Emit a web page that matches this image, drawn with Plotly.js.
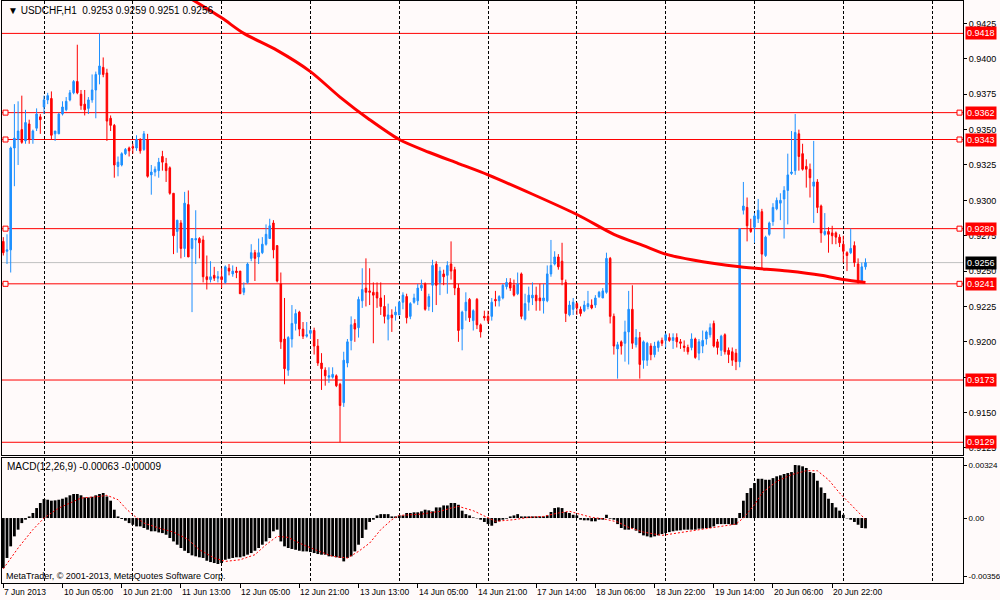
<!DOCTYPE html>
<html><head><meta charset="utf-8">
<script src="https://cdn.plot.ly/plotly-3.0.1.min.js"></script>
<style>html,body{margin:0;padding:0;background:#fffafa;}#chart{width:1000px;height:600px;}</style>
</head><body><div id="chart"></div>
<script>
const opens = [
0.9271,0.9264,0.9265,0.9337,0.9343,0.9350,0.9342,0.9354,0.9343,0.9351,
0.9359,0.9366,0.9371,0.9372,0.9347,0.9347,0.9361,0.9364,0.9371,0.9376,
0.9384,0.9375,0.9368,0.9365,0.9371,0.9378,0.9389,0.9394,0.9390,0.9358,
0.9353,0.9324,0.9325,0.9333,0.9337,0.9338,0.9337,0.9343,0.9336,0.9343,
0.9318,0.9320,0.9321,0.9331,0.9326,0.9323,0.9305,0.9278,0.9284,0.9266,
0.9297,0.9266,0.9272,0.9273,0.9272,0.9246,0.9244,0.9247,0.9245,0.9246,
0.9242,0.9252,0.9248,0.9250,0.9250,0.9235,0.9242,0.9259,0.9263,0.9260,
0.9263,0.9269,0.9273,0.9284,0.9268,0.9241,0.9202,0.9180,0.9202,0.9213,
0.9221,0.9209,0.9204,0.9206,0.9208,0.9197,0.9185,0.9180,0.9175,0.9175,
0.9176,0.9170,0.9157,0.9185,0.9201,0.9213,0.9210,0.9229,0.9238,0.9236,
0.9235,0.9235,0.9231,0.9225,0.9216,0.9219,0.9219,0.9219,0.9228,0.9232,
0.9218,0.9228,0.9229,0.9238,0.9241,0.9225,0.9240,0.9255,0.9242,0.9248,
0.9247,0.9255,0.9251,0.9238,0.9209,0.9222,0.9230,0.9215,0.9230,0.9212,
0.9218,0.9218,0.9218,0.9230,0.9229,0.9231,0.9239,0.9242,0.9240,0.9234,
0.9248,0.9216,0.9228,0.9231,0.9233,0.9231,0.9229,0.9229,0.9248,0.9255,
0.9260,0.9257,0.9242,0.9219,0.9223,0.9227,0.9223,0.9222,0.9225,0.9226,
0.9226,0.9232,0.9231,0.9235,0.9259,0.9218,0.9195,0.9200,0.9199,0.9207,
0.9223,0.9198,0.9203,0.9187,0.9187,0.9197,0.9191,0.9196,0.9201,0.9201,
0.9203,0.9201,0.9203,0.9200,0.9197,0.9196,0.9196,0.9202,0.9192,0.9197,
0.9202,0.9205,0.9213,0.9200,0.9194,0.9205,0.9194,0.9193,0.9192,0.9186,
0.9293,0.9295,0.9280,0.9281,0.9287,0.9292,0.9261,0.9276,0.9285,0.9294,
0.9298,0.9301,0.9307,0.9319,0.9321,0.9347,0.9333,0.9324,0.9322,0.9310,
0.9313,0.9296,0.9276,0.9278,0.9277,0.9277,0.9274,0.9269,0.9263,0.9263,
0.9268,0.9255,0.9243,0.9253];
const highs = [
0.9274,0.9276,0.9338,0.9368,0.9370,0.9374,0.9364,0.9357,0.9350,0.9365,
0.9361,0.9374,0.9376,0.9377,0.9349,0.9362,0.9370,0.9373,0.9378,0.9385,
0.9410,0.9378,0.9378,0.9373,0.9389,0.9391,0.9418,0.9401,0.9393,0.9360,
0.9354,0.9331,0.9334,0.9337,0.9338,0.9340,0.9346,0.9344,0.9349,0.9347,
0.9325,0.9324,0.9330,0.9335,0.9330,0.9324,0.9305,0.9286,0.9286,0.9306,
0.9307,0.9273,0.9293,0.9274,0.9275,0.9261,0.9257,0.9253,0.9250,0.9252,
0.9254,0.9255,0.9254,0.9253,0.9250,0.9242,0.9256,0.9269,0.9265,0.9273,
0.9274,0.9283,0.9287,0.9286,0.9268,0.9249,0.9231,0.9204,0.9226,0.9223,
0.9222,0.9214,0.9214,0.9209,0.9210,0.9202,0.9192,0.9182,0.9182,0.9182,
0.9177,0.9171,0.9193,0.9202,0.9218,0.9216,0.9232,0.9252,0.9259,0.9252,
0.9242,0.9242,0.9242,0.9233,0.9227,0.9223,0.9225,0.9229,0.9235,0.9234,
0.9228,0.9234,0.9241,0.9244,0.9242,0.9234,0.9258,0.9257,0.9253,0.9251,
0.9257,0.9271,0.9253,0.9241,0.9222,0.9235,0.9231,0.9223,0.9231,0.9213,
0.9222,0.9222,0.9231,0.9236,0.9233,0.9241,0.9245,0.9245,0.9244,0.9249,
0.9249,0.9234,0.9239,0.9242,0.9239,0.9241,0.9241,0.9254,0.9272,0.9264,
0.9262,0.9270,0.9244,0.9229,0.9231,0.9228,0.9225,0.9229,0.9236,0.9230,
0.9233,0.9236,0.9238,0.9263,0.9260,0.9220,0.9200,0.9201,0.9215,0.9236,
0.9240,0.9209,0.9207,0.9201,0.9200,0.9199,0.9200,0.9201,0.9203,0.9206,
0.9206,0.9206,0.9206,0.9202,0.9201,0.9198,0.9206,0.9203,0.9202,0.9208,
0.9208,0.9213,0.9215,0.9202,0.9205,0.9206,0.9196,0.9196,0.9195,0.9280,
0.9313,0.9302,0.9287,0.9291,0.9301,0.9294,0.9275,0.9285,0.9298,0.9302,
0.9305,0.9310,0.9333,0.9349,0.9361,0.9350,0.9340,0.9329,0.9326,0.9342,
0.9315,0.9297,0.9291,0.9281,0.9282,0.9278,0.9276,0.9275,0.9264,0.9280,
0.9271,0.9259,0.9256,0.9259];
const lows = [
0.9261,0.9255,0.9249,0.9310,0.9325,0.9340,0.9340,0.9340,0.9340,0.9349,
0.9347,0.9361,0.9368,0.9343,0.9342,0.9347,0.9360,0.9363,0.9370,0.9375,
0.9375,0.9364,0.9360,0.9361,0.9369,0.9358,0.9382,0.9387,0.9342,0.9349,
0.9316,0.9317,0.9324,0.9332,0.9331,0.9333,0.9335,0.9333,0.9335,0.9316,
0.9304,0.9317,0.9316,0.9321,0.9313,0.9304,0.9262,0.9263,0.9259,0.9260,
0.9260,0.9221,0.9255,0.9259,0.9242,0.9237,0.9242,0.9243,0.9242,0.9238,
0.9241,0.9247,0.9246,0.9245,0.9234,0.9233,0.9241,0.9257,0.9243,0.9255,
0.9262,0.9268,0.9273,0.9259,0.9242,0.9195,0.9170,0.9176,0.9196,0.9208,
0.9204,0.9202,0.9203,0.9202,0.9191,0.9183,0.9166,0.9169,0.9171,0.9174,
0.9168,0.9129,0.9154,0.9182,0.9194,0.9200,0.9203,0.9224,0.9225,0.9226,
0.9199,0.9224,0.9219,0.9213,0.9201,0.9207,0.9215,0.9219,0.9223,0.9213,
0.9216,0.9227,0.9226,0.9236,0.9222,0.9222,0.9221,0.9226,0.9233,0.9240,
0.9234,0.9244,0.9233,0.9200,0.9194,0.9215,0.9214,0.9208,0.9209,0.9203,
0.9215,0.9213,0.9215,0.9225,0.9225,0.9230,0.9237,0.9236,0.9232,0.9233,
0.9216,0.9215,0.9222,0.9226,0.9222,0.9222,0.9220,0.9228,0.9246,0.9254,
0.9251,0.9240,0.9214,0.9218,0.9219,0.9219,0.9218,0.9221,0.9223,0.9223,
0.9224,0.9231,0.9231,0.9234,0.9213,0.9191,0.9174,0.9191,0.9186,0.9184,
0.9195,0.9196,0.9174,0.9181,0.9183,0.9187,0.9189,0.9193,0.9197,0.9196,
0.9200,0.9195,0.9196,0.9195,0.9193,0.9191,0.9194,0.9188,0.9187,0.9192,
0.9198,0.9203,0.9196,0.9191,0.9190,0.9191,0.9185,0.9183,0.9180,0.9182,
0.9290,0.9271,0.9277,0.9270,0.9284,0.9251,0.9260,0.9275,0.9282,0.9293,
0.9286,0.9273,0.9283,0.9318,0.9318,0.9321,0.9321,0.9309,0.9302,0.9284,
0.9291,0.9270,0.9275,0.9263,0.9269,0.9269,0.9267,0.9256,0.9250,0.9262,
0.9253,0.9241,0.9242,0.9251];
const closes = [
0.9263,0.9265,0.9337,0.9344,0.9349,0.9341,0.9355,0.9343,0.9349,0.9361,
0.9357,0.9371,0.9374,0.9346,0.9349,0.9361,0.9366,0.9370,0.9376,0.9384,
0.9376,0.9367,0.9364,0.9371,0.9378,0.9389,0.9395,0.9389,0.9356,0.9353,
0.9325,0.9327,0.9333,0.9336,0.9335,0.9337,0.9343,0.9335,0.9347,0.9317,
0.9320,0.9322,0.9327,0.9327,0.9321,0.9305,0.9275,0.9286,0.9266,0.9298,
0.9260,0.9273,0.9273,0.9270,0.9246,0.9244,0.9246,0.9245,0.9246,0.9244,
0.9253,0.9250,0.9250,0.9249,0.9234,0.9238,0.9255,0.9263,0.9259,0.9263,
0.9269,0.9276,0.9282,0.9265,0.9243,0.9200,0.9181,0.9203,0.9213,0.9220,
0.9209,0.9204,0.9205,0.9208,0.9197,0.9185,0.9181,0.9176,0.9176,0.9177,
0.9169,0.9155,0.9187,0.9200,0.9212,0.9209,0.9230,0.9237,0.9235,0.9235,
0.9233,0.9231,0.9225,0.9218,0.9219,0.9217,0.9221,0.9228,0.9233,0.9217,
0.9227,0.9231,0.9238,0.9240,0.9223,0.9232,0.9254,0.9240,0.9250,0.9246,
0.9254,0.9250,0.9238,0.9208,0.9221,0.9228,0.9217,0.9222,0.9212,0.9207,
0.9217,0.9215,0.9228,0.9229,0.9232,0.9240,0.9242,0.9238,0.9233,0.9241,
0.9218,0.9227,0.9233,0.9233,0.9229,0.9229,0.9231,0.9248,0.9254,0.9260,
0.9253,0.9244,0.9220,0.9226,0.9228,0.9224,0.9220,0.9226,0.9227,0.9224,
0.9231,0.9235,0.9236,0.9259,0.9218,0.9197,0.9198,0.9197,0.9207,0.9223,
0.9199,0.9203,0.9184,0.9200,0.9199,0.9191,0.9197,0.9200,0.9199,0.9205,
0.9201,0.9203,0.9200,0.9199,0.9196,0.9193,0.9202,0.9189,0.9200,0.9201,
0.9207,0.9210,0.9197,0.9196,0.9204,0.9193,0.9191,0.9187,0.9186,0.9280,
0.9296,0.9282,0.9278,0.9289,0.9293,0.9262,0.9274,0.9284,0.9295,0.9300,
0.9300,0.9307,0.9318,0.9320,0.9348,0.9331,0.9322,0.9322,0.9316,0.9313,
0.9295,0.9277,0.9278,0.9276,0.9275,0.9274,0.9270,0.9264,0.9261,0.9266,
0.9256,0.9242,0.9253,0.9256];

const maIdx = [51,59,65,74,83,91,99,107,115,123,131,155,165,173,179,186,199,212,221,227,233];
const maVal = [0.9442,0.9429,0.9418,0.9406,0.9391,0.9373,0.9357,0.9343,0.9334,0.9326,0.9318,0.9290,0.9276,0.9268,0.9262,0.9258,0.9253,0.9250,0.9247,0.9244,0.9242];

const macd = [
-0.00306,-0.00244,-0.00173,-0.00112,-0.00071,-0.00031,-0.00010,0.00010,0.00031,0.00061,
0.00092,0.00116,0.00112,0.00106,0.00108,0.00112,0.00118,0.00126,0.00139,0.00147,
0.00147,0.00139,0.00126,0.00126,0.00130,0.00139,0.00147,0.00153,0.00132,0.00106,
0.00051,0.00010,-0.00006,-0.00016,-0.00031,-0.00041,-0.00051,-0.00051,-0.00061,-0.00071,
-0.00081,-0.00081,-0.00088,-0.00092,-0.00102,-0.00122,-0.00143,-0.00163,-0.00183,-0.00200,
-0.00214,-0.00228,-0.00234,-0.00240,-0.00244,-0.00261,-0.00269,-0.00275,-0.00281,-0.00275,
-0.00255,-0.00249,-0.00244,-0.00240,-0.00240,-0.00234,-0.00224,-0.00214,-0.00200,-0.00183,
-0.00163,-0.00143,-0.00122,-0.00081,-0.00071,-0.00143,-0.00173,-0.00183,-0.00189,-0.00194,
-0.00200,-0.00204,-0.00204,-0.00208,-0.00214,-0.00220,-0.00224,-0.00224,-0.00234,-0.00234,
-0.00240,-0.00244,-0.00265,-0.00244,-0.00234,-0.00204,-0.00163,-0.00122,-0.00071,-0.00024,
-0.00010,0.00016,0.00024,0.00024,0.00024,0.00010,0.00010,0.00016,0.00016,0.00031,
0.00031,0.00035,0.00035,0.00041,0.00051,0.00047,0.00041,0.00065,0.00065,0.00077,
0.00077,0.00092,0.00092,0.00081,0.00045,0.00024,0.00016,0.00004,-0.00002,-0.00010,
-0.00024,-0.00037,-0.00047,-0.00031,-0.00020,-0.00010,-0.00004,0.00010,0.00016,0.00024,
0.00010,0.00010,0.00010,0.00010,0.00010,0.00010,0.00010,0.00016,0.00037,0.00061,
0.00065,0.00061,0.00037,0.00031,0.00020,0.00016,-0.00010,-0.00014,-0.00014,-0.00020,
-0.00020,-0.00010,-0.00010,0.00020,-0.00004,-0.00010,-0.00037,-0.00061,-0.00071,-0.00071,
-0.00061,-0.00077,-0.00092,-0.00106,-0.00112,-0.00118,-0.00112,-0.00106,-0.00098,-0.00092,
-0.00086,-0.00081,-0.00077,-0.00075,-0.00071,-0.00071,-0.00071,-0.00071,-0.00065,-0.00065,
-0.00061,-0.00061,-0.00051,-0.00037,-0.00037,-0.00037,-0.00037,-0.00041,-0.00041,0.00031,
0.00106,0.00153,0.00183,0.00214,0.00240,0.00240,0.00234,0.00234,0.00244,0.00255,
0.00261,0.00269,0.00275,0.00281,0.00324,0.00322,0.00316,0.00306,0.00281,0.00275,
0.00228,0.00187,0.00153,0.00118,0.00092,0.00065,0.00045,0.00020,-0.00002,-0.00010,
-0.00024,-0.00041,-0.00061,-0.00063];

const sigIdx = [0,4,8,11,15,21,26,28,31,33,35,38,42,46,50,53,57,60,64,68,71,74,77,80,85,89,93,96,99,102,105,107,113,118,121,123,127,131,133,138,142,146,150,153,156,159,162,166,169,173,178,184,189,195,198,200,203,205,209,213,217,220,223,226,230,233];
const sigVal = [-0.00310,-0.00183,-0.00071,0.00000,0.00061,0.00122,0.00132,0.00139,0.00112,0.00061,0.00020,-0.00031,-0.00061,-0.00086,-0.00132,-0.00194,-0.00244,-0.00265,-0.00255,-0.00224,-0.00163,-0.00112,-0.00118,-0.00153,-0.00200,-0.00234,-0.00244,-0.00204,-0.00153,-0.00071,-0.00010,0.00016,0.00024,0.00041,0.00061,0.00071,0.00045,0.00004,-0.00020,-0.00010,0.00004,0.00010,0.00031,0.00041,0.00024,0.00004,-0.00004,-0.00024,-0.00057,-0.00086,-0.00106,-0.00086,-0.00065,-0.00045,-0.00037,0.00000,0.00081,0.00153,0.00224,0.00265,0.00289,0.00289,0.00234,0.00153,0.00061,-0.00009];

const gridIdx = [11,35,59,83,107,131,155,179,203,227,251];
const labelIdx = [0,16,32,48,64,80,96,112,128,144,160,176,192,208,224];
const labelText = ['7 Jun 2013','10 Jun 05:00','10 Jun 21:00','11 Jun 13:00','12 Jun 05:00','12 Jun 21:00','13 Jun 13:00','14 Jun 05:00','14 Jun 21:00','17 Jun 14:00','18 Jun 06:00','18 Jun 22:00','19 Jun 14:00','20 Jun 06:00','20 Jun 22:00'];
const priceTicks = [0.9125,0.9150,0.9175,0.9200,0.9225,0.9250,0.9275,0.9300,0.9325,0.9350,0.9375,0.9400,0.9425];
const levels = [0.9418,0.9362,0.9343,0.9280,0.9241,0.9173,0.9129];
const markedLevels = [0.9362,0.9343,0.9280,0.9241];
const lastPrice = 0.9256;
const macdTicks = [0.00324,0,-0.00356];
const macdTickText = ['0.00324','0.00','-0.00356'];
const macdMain = -0.00063, macdSignal = -0.00009;

const barIdx = opens.map((_, i) => i);
const last = opens.length - 1;
const FONT = 'Liberation Sans, Arial, sans-serif';
const axisFont = {family: FONT, size: 9, color: '#000'};
const xRange = [-0.35, 259.35];
const BG = '#fffafa';

const traces = [
  {type:'candlestick', x:barIdx, open:opens, high:highs, low:lows, close:closes,
   xaxis:'x', yaxis:'y', whiskerwidth:0, hoverinfo:'skip',
   increasing:{line:{color:'#1e90ff', width:1}, fillcolor:'#1e90ff'},
   decreasing:{line:{color:'#ff0000', width:1}, fillcolor:'#ff0000'}},
  {type:'scatter', mode:'lines', x:maIdx, y:maVal, xaxis:'x', yaxis:'y',
   line:{color:'#ff0000', width:3, shape:'spline', smoothing:0.8}, hoverinfo:'skip'},
  {type:'bar', x:barIdx, y:macd, xaxis:'x2', yaxis:'y2', width:0.75,
   marker:{color:'#000', line:{width:0}}, hoverinfo:'skip'},
  {type:'scatter', mode:'lines', x:sigIdx, y:sigVal, xaxis:'x3', yaxis:'y2',
   line:{color:'#ff0000', width:1, dash:'2px,2px'}, hoverinfo:'skip'}
];

const shapes = [];
levels.forEach(v => shapes.push({type:'line', xref:'paper', x0:0, x1:1, yref:'y', y0:v, y1:v,
  line:{color:'#ff0000', width:1}, layer:'between'}));
shapes.push({type:'line', xref:'paper', x0:0, x1:1, yref:'y', y0:lastPrice, y1:lastPrice,
  line:{color:'#c0c0c0', width:1}, layer:'between'});
markedLevels.forEach(v => {
  [[0,1,6],[1,-6,-1]].forEach(([a,p0,p1]) => shapes.push({type:'rect', xref:'paper', xsizemode:'pixel', xanchor:a, x0:p0, x1:p1,
    yref:'y', ysizemode:'pixel', yanchor:v, y0:-2.5, y1:2.5, line:{color:'#ff0000', width:1}, fillcolor:BG}));
});

const annotations = [];
levels.forEach(v => annotations.push({xref:'paper', x:1, xanchor:'left', xshift:2, yref:'y', y:v, yanchor:'middle',
  text:v.toFixed(4), showarrow:false, bgcolor:'#ff0000', borderpad:1, font:{family:FONT, size:9, color:'#fff'}}));
annotations.push({xref:'paper', x:1, xanchor:'left', xshift:2, yref:'y', y:lastPrice, yanchor:'middle',
  text:lastPrice.toFixed(4), showarrow:false, bgcolor:'#000', borderpad:1, font:{family:FONT, size:9, color:'#fff'}});
annotations.push({xref:'paper', x:0, xanchor:'left', xshift:4, yref:'paper', y:1, yanchor:'top', yshift:-2, showarrow:false,
  text:'\u25BC USDCHF,H1\u00a0\u00a0' + [opens[last], highs[last], lows[last], closes[last]].map(v=>v.toFixed(4)).join(' '),
  font:{family:FONT, size:10, color:'#000'}});
annotations.push({xref:'paper', x:0, xanchor:'left', xshift:3, yref:'y2 domain', y:1, yanchor:'top', yshift:-1, showarrow:false,
  text:'MACD(12,26,9) ' + macdMain.toFixed(5) + ' ' + macdSignal.toFixed(5), font:{family:FONT, size:10, color:'#000'}});
annotations.push({xref:'paper', x:0, xanchor:'left', xshift:2, yref:'y2 domain', y:0, yanchor:'bottom', yshift:0, showarrow:false,
  text:'MetaTrader, \u00a9 2001-2013, MetaQuotes Software Corp.', font:{family:FONT, size:9, color:'#000'}});
labelIdx.forEach((v, k) => annotations.push({xref:'x3', x:v, xanchor:'left', xshift:-1, yref:'paper', y:0, yanchor:'top', yshift:-2,
  text:labelText[k], showarrow:false, font:{family:FONT, size:8.5, color:'#000'}}));

const gridAxis = {range:xRange, tickmode:'array', tickvals:gridIdx, showticklabels:false, ticks:'',
  showgrid:true, gridcolor:'#000', gridwidth:1, griddash:'3px,2px', zeroline:false,
  showline:true, mirror:true, linecolor:'#000', linewidth:1, fixedrange:true};

const layout = {
  width:1000, height:600,
  margin:{l:2, r:37, t:1, b:17, pad:0},
  paper_bgcolor:BG, plot_bgcolor:BG,
  showlegend:false, boxgap:0.4, bargap:0.25,
  font:{family:FONT, size:9, color:'#000'},
  xaxis:Object.assign({}, gridAxis, {domain:[0,1], anchor:'y', rangeslider:{visible:false}}),
  xaxis2:Object.assign({}, gridAxis, {domain:[0,1], anchor:'y2'}),
  xaxis3:{overlaying:'x2', anchor:'y2', range:xRange, tickmode:'array', tickvals:labelIdx,
    ticks:'outside', ticklen:4, tickcolor:'#000', tickwidth:1, showticklabels:false,
    showgrid:false, zeroline:false, showline:false, fixedrange:true},
  yaxis:{domain:[0.2199,1], anchor:'x', side:'right', range:[0.91200,0.94409], tickmode:'array',
    tickvals:priceTicks, ticktext:priceTicks.map(v=>v.toFixed(4)), ticks:'outside', ticklen:3, tickcolor:'#000',
    showgrid:false, zeroline:false, showline:true, mirror:true, linecolor:'#000', tickfont:axisFont, fixedrange:true},
  yaxis2:{domain:[0,0.2148], anchor:'x2', side:'right', range:[-0.00397,0.00367], tickmode:'array',
    tickvals:macdTicks, ticktext:macdTickText, ticks:'outside', ticklen:3, tickcolor:'#000',
    showgrid:false, zeroline:false, showline:true, mirror:true, linecolor:'#000',
    tickfont:{family:FONT, size:8, color:'#000'}, fixedrange:true},
  shapes:shapes, annotations:annotations
};

Plotly.newPlot('chart', traces, layout, {staticPlot:true, displayModeBar:false});
</script>
</body></html>
